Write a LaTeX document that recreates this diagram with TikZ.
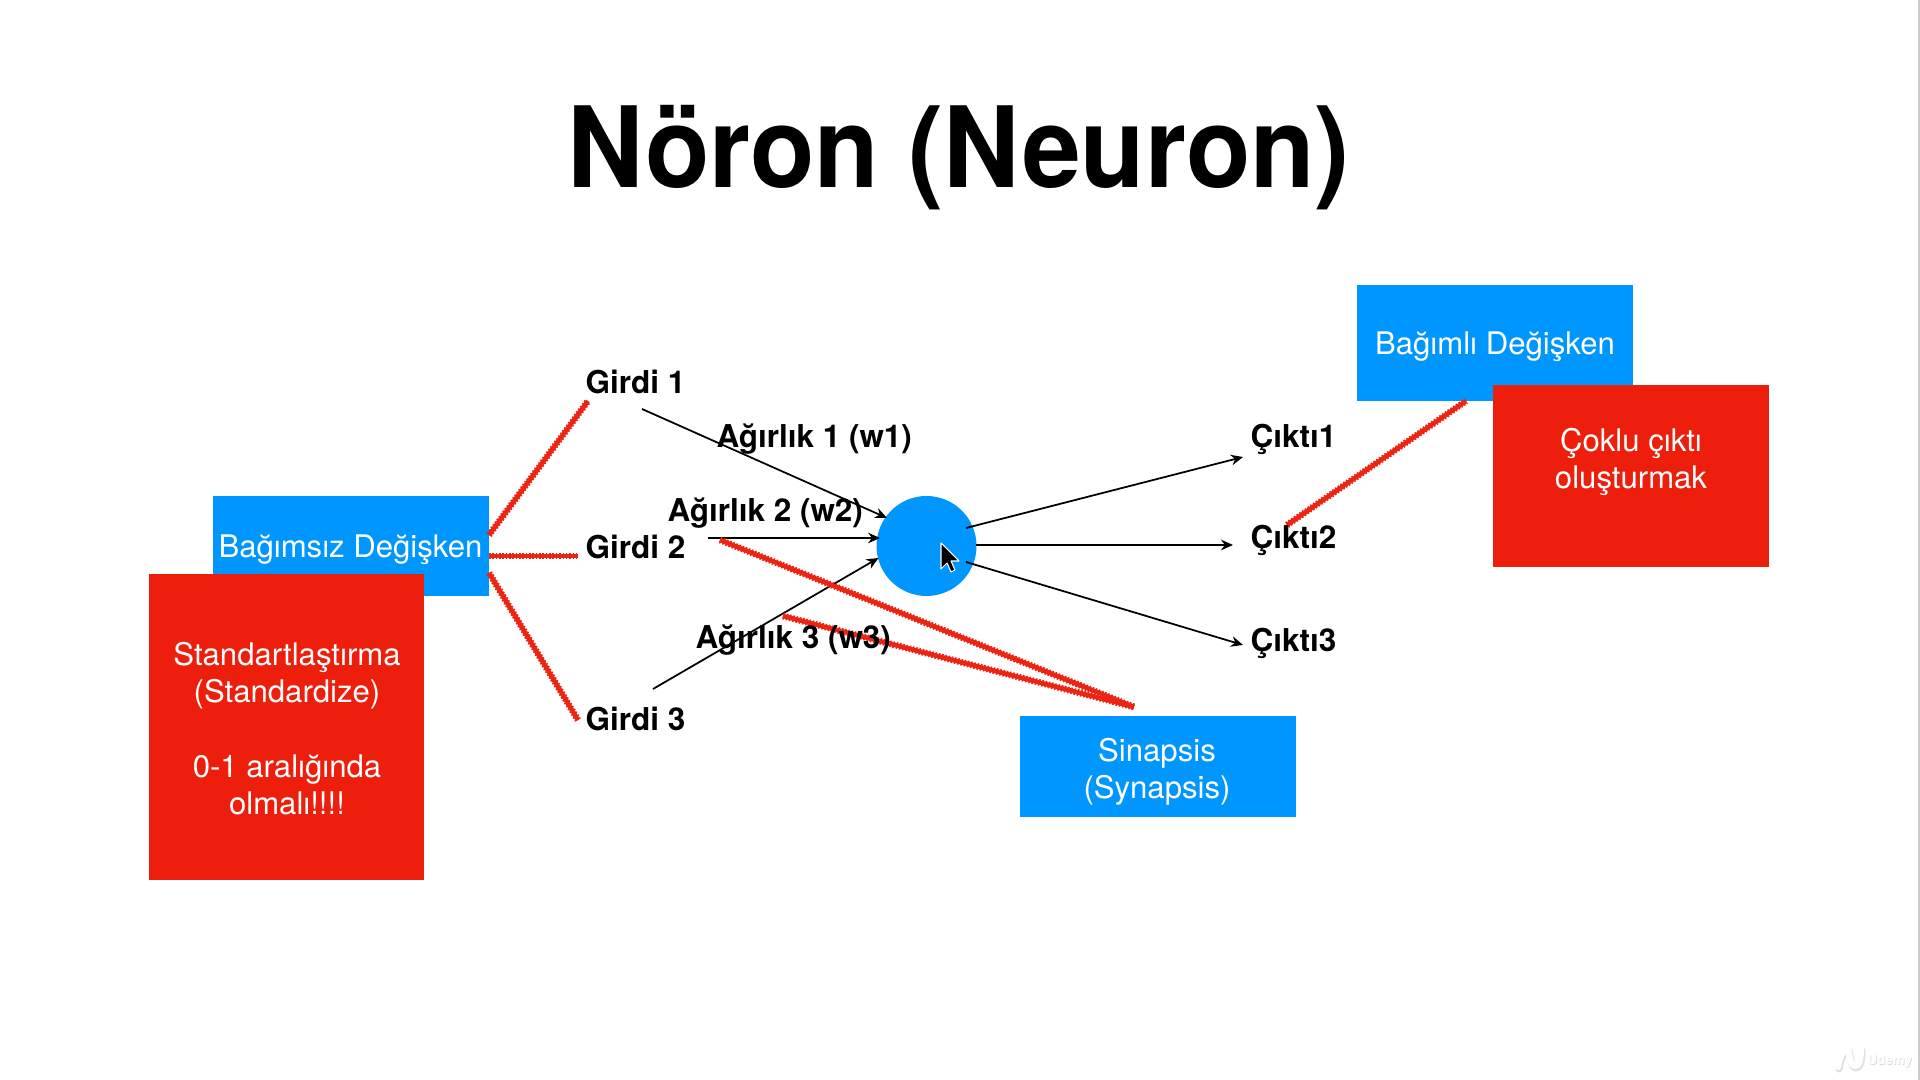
\documentclass[tikz,border=0pt]{standalone}
\usepackage{fontspec}
\usepackage{graphicx}
\setmainfont{TeX Gyre Heros}
\usetikzlibrary{arrows.meta}
\definecolor{bluebox}{HTML}{0096FF}
\definecolor{redbox}{HTML}{EE1E0C}
\definecolor{redline}{HTML}{EC2414}
\tikzset{
  x=0.01cm,y=-0.01cm,
  boxbase/.style={draw=none,inner sep=0pt,outer sep=0pt},
  bluerect/.style={boxbase,fill=bluebox},
  redrect/.style={boxbase,fill=redbox},
  whitetext/.style={text=white,align=center,inner sep=0pt,font=\fontsize{8.85}{10.53}\selectfont},
  blacklabel/.style={text=black,anchor=base west,inner sep=0pt,font=\fontsize{8.95}{10.5}\selectfont\bfseries},
  arrowline/.style={draw=black,line width=0.5pt,-{Stealth[length=3.4pt,width=3pt]}},
  scribblecore/.style={draw=redline,line width=1.3pt},
  scribbleedge/.style={draw=redline,line width=1.9pt,dash pattern=on 0.45pt off 0.5pt},
}
\newcommand{\scribbleline}[2]{%
  \draw[scribblecore] (#1) -- (#2);
  \draw[scribbleedge] (#1) -- (#2);
}
\begin{document}
\begin{tikzpicture}
\useasboundingbox[fill=white] (0,0) rectangle (1920,1080);
\fill[gray!40] (1918,0) rectangle (1920,1080);

% title
\node[inner sep=0pt,text=black,anchor=base,font=\fontsize{31.9}{40}\selectfont\bfseries] (title) at (959,188) {\scalebox{0.94}[1]{Nöron (Neuron)}};

% boxes
\node[bluerect,minimum width=276*0.01cm,minimum height=100*0.01cm] (indep) at (351,546) {};
\node[bluerect,minimum width=276*0.01cm,minimum height=116*0.01cm] (dep) at (1495,343) {};
\node[bluerect,minimum width=276*0.01cm,minimum height=101*0.01cm] (syn) at (1158,767) {};
\node[circle,fill=bluebox,inner sep=0pt,minimum size=100*0.01cm] (neuron) at (926.5,546) {};

% free ends
\coordinate (a1s) at (642,409); \coordinate (a1e) at (887,518);
\coordinate (a2s) at (708,538); \coordinate (a2e) at (880,538);
\coordinate (a3s) at (653,689); \coordinate (a3e) at (878.5,558);
\coordinate (o1s) at (966,528); \coordinate (o1e) at (1243,457);
\coordinate (o2s) at (976,545); \coordinate (o2e) at (1233,545);
\coordinate (o3s) at (966,562); \coordinate (o3e) at (1243,645);

\draw[arrowline] (a1s) -- (a1e);
\draw[arrowline] (a2s) -- (a2e);
\draw[arrowline] (a3s) -- (a3e);
\draw[arrowline] (o1s) -- (o1e);
\draw[arrowline] (o2s) -- (o2e);
\draw[arrowline] (o3s) -- (o3e);

% red scribbles
\coordinate (r1s) at (489,535); \coordinate (r1e) at (588,401);
\coordinate (r2s) at (489,556); \coordinate (r2e) at (578,556);
\coordinate (r3s) at (489,573); \coordinate (r3e) at (578,720);
\coordinate (s1s) at (720,540); \coordinate (s2s) at (783,616); \coordinate (sj) at (1134,707);
\coordinate (d1s) at (1287,525); \coordinate (d1e) at (1466,401);
\scribbleline{r1s}{r1e}
\scribbleline{r2s}{r2e}
\scribbleline{r3s}{r3e}
\scribbleline{s1s}{sj}
\scribbleline{s2s}{sj}
\scribbleline{d1s}{d1e}

% red boxes (over blue)
\node[redrect,minimum width=275*0.01cm,minimum height=306*0.01cm] (std) at (286.5,727) {};
\node[redrect,minimum width=276*0.01cm,minimum height=182*0.01cm] (multi) at (1631,476) {};

% box texts
\node[whitetext,anchor=base] (indept) at (350.5,558) {Bağımsız Değişken};
\node[whitetext,anchor=base] (dept) at (1495,355) {Bağımlı Değişken};
\node[whitetext,anchor=base] (synta) at (1157,762) {Sinapsis};
\node[whitetext,anchor=base] (syntb) at (1157,799) {(Synapsis)};
\node[whitetext,anchor=base] (stda) at (287,666) {Standartlaştırma};
\node[whitetext,anchor=base] (stdb) at (287,703) {(Standardize)};
\node[whitetext,anchor=base] (stdc) at (287,778) {0-1 aralığında};
\node[whitetext,anchor=base] (stdd) at (287,815) {olmalı!!!!};
\node[whitetext,anchor=base] (multa) at (1631,452) {Çoklu çıktı};
\node[whitetext,anchor=base] (multb) at (1631,489) {oluşturmak};

% labels
\node[blacklabel] (g1) at (585,394) {Girdi 1};
\node[blacklabel] (g2) at (585,559) {Girdi 2};
\node[blacklabel] (g3) at (585,731) {Girdi 3};
\node[blacklabel] (w1) at (716,448) {Ağırlık 1 (w1)};
\node[blacklabel] (w2) at (667,522) {Ağırlık 2 (w2)};
\node[blacklabel] (w3) at (695,649) {Ağırlık 3 (w3)};
\node[blacklabel] (c1) at (1250,448) {Çıktı1};
\node[blacklabel] (c2) at (1250,549) {Çıktı2};
\node[blacklabel] (c3) at (1250,652) {Çıktı3};

% cursor
\draw[fill=black,draw=white,line width=0.3pt,line join=round] (941,543) -- (941,569) -- (947,563) -- (951,572) -- (955,570) -- (951,561) -- (959,561) -- cycle;

% watermark
\draw[gray!25,line width=2pt,line cap=round,line join=round] (1839,1069) .. controls (1840,1059) and (1846,1049) .. (1849,1051) .. controls (1851,1061) and (1852,1069) .. (1857,1068) .. controls (1861,1067) and (1862,1057) .. (1862,1051);
\draw[white,line width=1.8pt,line cap=round,line join=round] (1838,1067) .. controls (1839,1057) and (1845,1047) .. (1848,1049) .. controls (1850,1059) and (1851,1067) .. (1856,1066) .. controls (1860,1065) and (1861,1055) .. (1861,1049);
\node[inner sep=0pt,anchor=base west,text=gray!30,font=\fontsize{3.8}{5}\selectfont\bfseries] (udemyb) at (1867.7,1065.7) {Udemy};
\node[inner sep=0pt,anchor=base west,text=white,font=\fontsize{3.8}{5}\selectfont\bfseries] (udemy) at (1867,1065) {Udemy};
\end{tikzpicture}
\end{document}
